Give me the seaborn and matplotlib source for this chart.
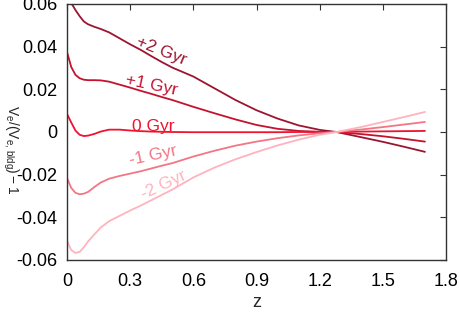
import matplotlib
matplotlib.use("Agg")
import matplotlib.pyplot as plt
import seaborn as sns
import pandas as pd

z = [0.0, 0.02, 0.04, 0.06, 0.08, 0.10, 0.13, 0.16, 0.20, 0.25, 0.30, 0.35, 0.40, 0.45,
     0.50, 0.60, 0.70, 0.80, 0.90, 1.00, 1.10, 1.20, 1.28, 1.40, 1.50, 1.60, 1.70]

plus2 = [0.0625, 0.0605, 0.0572, 0.0543, 0.0518, 0.0505, 0.0493, 0.0483, 0.0467, 0.0439,
         0.0411, 0.0385, 0.0356, 0.0328, 0.0302, 0.0260, 0.0205, 0.0150, 0.0102, 0.0063,
         0.0031, 0.0010, 0.0, -0.0025, -0.0046, -0.0069, -0.0093]
plus1 = [0.0375, 0.0305, 0.0268, 0.0252, 0.0245, 0.0243, 0.0243, 0.0242, 0.0236, 0.0222,
         0.0208, 0.0193, 0.0179, 0.0164, 0.0150, 0.0118, 0.0088, 0.0059, 0.0033, 0.0015,
         0.0005, 0.0001, 0.0, -0.0010, -0.0020, -0.0032, -0.0045]
zero = [0.0085, 0.0045, 0.0007, -0.0013, -0.0019, -0.0017, -0.0009, 0.0002, 0.0011, 0.0011,
        0.0007, 0.0004, 0.0002, 0.0001, 0.0, -0.0001, -0.0001, -0.0001, -0.0001, -0.0001,
        0.0, 0.0, 0.0, 0.0002, 0.0003, 0.0004, 0.0005]
minus1 = [-0.0215, -0.0262, -0.0285, -0.0292, -0.0289, -0.0281, -0.0258, -0.0237, -0.0219,
          -0.0206, -0.0195, -0.0184, -0.0171, -0.0158, -0.0146, -0.0115, -0.0088, -0.0064,
          -0.0045, -0.0029, -0.0016, -0.0006, 0.0, 0.0012, 0.0023, 0.0035, 0.0047]
minus2 = [-0.0510, -0.0553, -0.0567, -0.0562, -0.0540, -0.0513, -0.0480, -0.0448, -0.0418,
          -0.0393, -0.0368, -0.0345, -0.0320, -0.0295, -0.0270, -0.0213, -0.0167, -0.0128,
          -0.0094, -0.0063, -0.0036, -0.0013, 0.0, 0.0024, 0.0047, 0.0070, 0.0094]

series_names = ["+2 Gyr", "+1 Gyr", "0 Gyr", "-1 Gyr", "-2 Gyr"]
series_vals = [plus2, plus1, zero, minus1, minus2]
colors = ["#9c1530", "#c4122f", "#f0122f", "#f27685", "#ffb3bf"]

xticks = [0, 0.3, 0.6, 0.9, 1.2, 1.5, 1.8]
xticklabels = ["0", "0.3", "0.6", "0.9", "1.2", "1.5", "1.8"]
yticks = [-0.06, -0.04, -0.02, 0, 0.02, 0.04, 0.06]
yticklabels = ["-0.06", "-0.04", "-0.02", "0", "0.02", "0.04", "0.06"]

rows = []
for name, vals in zip(series_names, series_vals):
    for zi, v in zip(z, vals):
        rows.append({"z": zi, "val": v, "series": name})
df = pd.DataFrame(rows)

sns.set_style("white")
plt.rcParams["font.family"] = ["Liberation Sans", "DejaVu Sans"]
plt.rcParams["mathtext.fontset"] = "custom"
plt.rcParams["mathtext.rm"] = "Liberation Sans"
plt.rcParams["mathtext.it"] = "Liberation Sans"

fig = plt.figure(figsize=(4.59, 3.12), dpi=100)
ax = fig.add_axes([67/459, 1 - 260/312, (446-67)/459, (260-4)/312])

sns.lineplot(data=df, x="z", y="val", hue="series", hue_order=series_names,
             palette=dict(zip(series_names, colors)), linewidth=1.3, ax=ax,
             legend=False, sort=True, estimator=None)

ax.set_xlim(0, 1.8)
ax.set_ylim(-0.06, 0.06)
ax.set_xticks(xticks)
ax.set_xticklabels(xticklabels)
ax.set_yticks(yticks)
ax.set_yticklabels(yticklabels)
ax.tick_params(direction="in", length=4, width=0.8, top=True, right=True,
               labelsize=13, colors="#333333", labelcolor="black")
ax.tick_params(axis="x", pad=9)
ax.tick_params(axis="y", pad=7)
for s in ax.spines.values():
    s.set_color("#333333")
    s.set_linewidth(1.0)
ax.set_xlabel("z", fontsize=13, labelpad=3)
ax.set_ylabel("")

lab_pos = [(0.45, 0.0380, -22), (0.40, 0.0218, -12), (0.41, 0.0028, 0),
           (0.41, -0.0112, 12), (0.46, -0.0248, 25)]
for (lx, ly, rot), name, c in zip(lab_pos, series_names, colors):
    ax.text(lx, ly, name, color=c, fontsize=12.5, rotation=rot,
            ha="center", va="center", rotation_mode="anchor")

fig.text(0.5/459, 0.52, r"$\mathrm{V_e/(V_{e,\,bldg})-1}$", rotation=270,
         ha="left", va="center", fontsize=10)

fig.savefig("out.png", dpi=100)
